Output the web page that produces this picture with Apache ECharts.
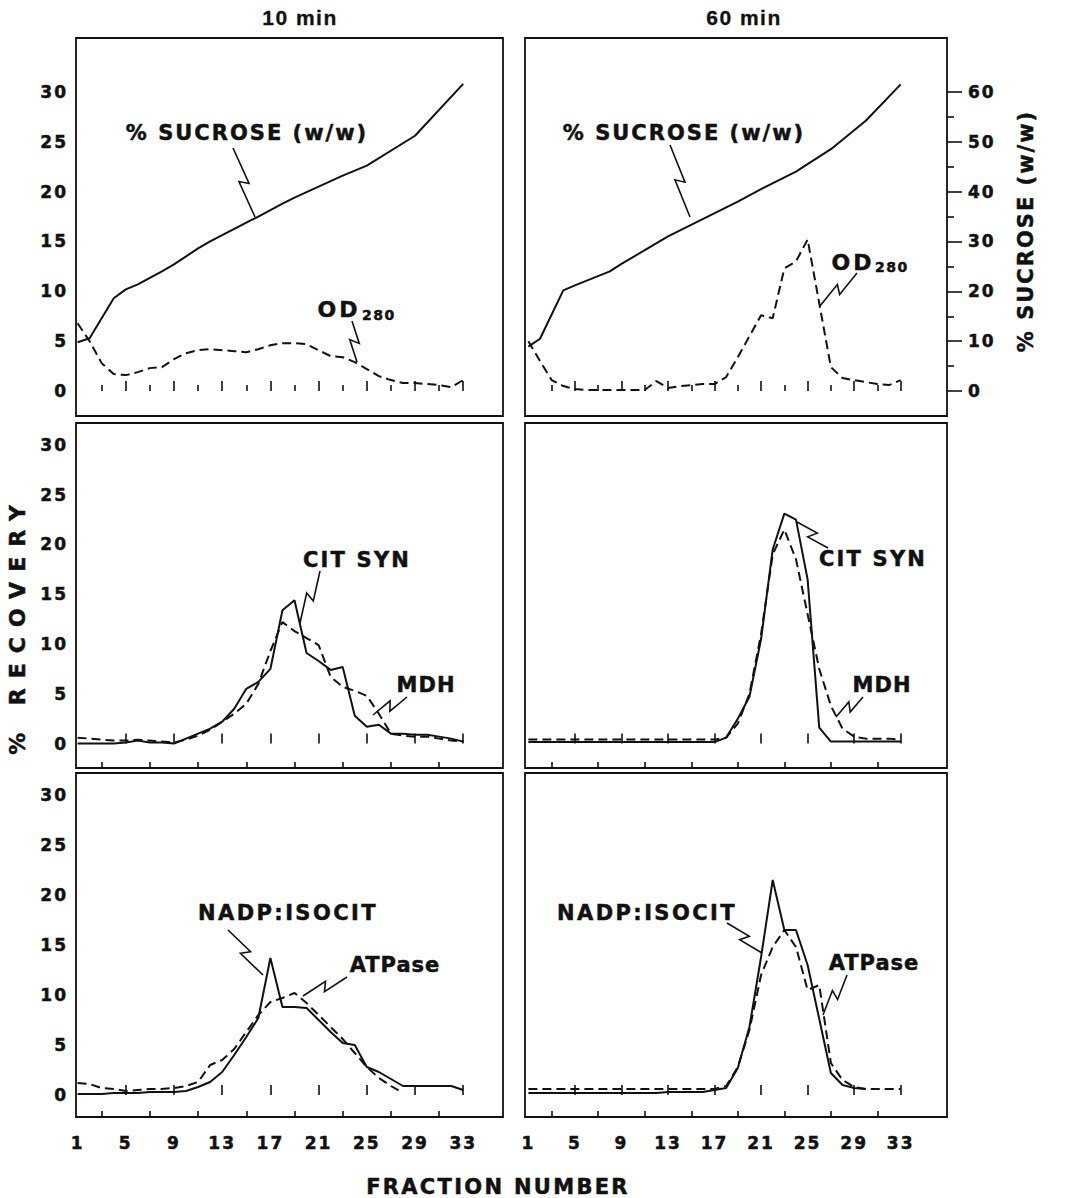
<!DOCTYPE html>
<html>
<head>
<meta charset="utf-8">
<script src="https://cdn.jsdelivr.net/npm/echarts@6/dist/echarts.min.js"></script>
<style>
  html, body { margin: 0; padding: 0; background: #fff; }
  #chart { width: 1077px; height: 1198px; }
</style>
</head>
<body>
<div id="chart"></div>
<script>
// ---------------- DATA ----------------
const fractions = [1,2,3,4,5,6,7,8,9,10,11,12,13,14,15,16,17,18,19,20,21,22,23,24,25,26,27,28,29,30,31,32,33];
const xTickLabels = [1,5,9,13,17,21,25,29,33];
const xMinorTicks = [3,7,11,15,19,23,27,31];
const yTickLabels = [0,5,10,15,20,25,30];
const sucroseTicks = [0,10,20,30,40,50,60];
const sucroseMinorTicks = [5,15,25,35,45,55];

// % sucrose (w/w), read at visible vertices
const sucrose10Frac = [1,2,4,5,6,8,9,11,12,16,18,19,23,25,29,33];
const sucrose10 = [9.8,10.6,18.6,20.4,21.4,24.0,25.4,28.6,30.0,35.0,37.6,38.8,43.2,45.2,51.2,61.6];
const sucrose60Frac = [1,2,4,5,8,9,13,19,21,24,27,30,33];
const sucrose60 = [8.9,10.5,20.2,21.2,24.0,25.5,31.0,38.0,40.5,44.0,48.5,54.2,61.5];

// OD280 (left scale)
const od280_10 = [6.8,5.0,2.8,1.7,1.6,1.9,2.3,2.4,3.2,3.8,4.1,4.2,4.1,4.0,3.9,4.2,4.6,4.8,4.8,4.7,4.1,3.5,3.4,2.9,2.2,1.5,1.1,0.8,0.8,0.7,0.6,0.4,1.1];
const od280_60 = [5.0,3.0,1.1,0.5,0.2,0.1,0.1,0.1,0.1,0.1,0.1,1.0,0.3,0.5,0.6,0.7,0.7,1.4,3.4,5.5,7.6,7.3,12.3,13.0,15.2,8.8,2.4,1.3,1.1,0.9,0.7,0.6,1.1];

// % recovery
const citSyn10 = [0.0,0.0,0.0,0.0,0.1,0.3,0.1,0.1,0.0,0.5,1.0,1.5,2.2,3.5,5.5,6.2,7.5,13.4,14.4,9.1,8.3,7.4,7.7,2.8,1.7,1.9,1.0,1.0,0.9,0.9,0.7,0.5,0.2];
const mdh10 = [0.6,0.5,0.4,0.3,0.3,0.4,0.3,0.2,0.1,0.4,0.8,1.4,2.2,3.0,4.0,6.0,9.3,12.2,11.3,10.6,9.9,6.7,5.7,5.3,4.8,3.0,1.0,0.8,0.7,0.7,0.5,0.3,0.2];
const citSyn60 = [0.15,0.15,0.15,0.15,0.15,0.15,0.15,0.15,0.15,0.15,0.15,0.15,0.15,0.15,0.15,0.15,0.15,0.6,2.5,4.7,10.5,19.5,23.1,22.5,16.5,1.6,0.2,0.2,0.2,0.2,0.2,0.2,0.2];
const mdh60 = [0.4,0.4,0.4,0.4,0.4,0.4,0.4,0.4,0.4,0.4,0.4,0.4,0.4,0.4,0.4,0.4,0.4,0.6,2.0,5.0,11.0,19.0,21.5,18.5,13.0,7.5,3.8,1.5,0.7,0.5,0.5,0.5,0.4];
const nadp10 = [0.1,0.1,0.1,0.2,0.2,0.2,0.3,0.3,0.3,0.4,0.8,1.3,2.3,4.0,5.8,7.7,13.7,8.8,8.8,8.7,7.5,6.3,5.2,5.0,2.8,2.3,1.6,0.9,0.9,0.9,0.9,0.9,0.5];
const atpase10 = [1.2,1.1,0.7,0.6,0.4,0.5,0.6,0.6,0.7,0.9,1.3,3.0,3.5,4.6,6.3,8.0,9.3,9.7,10.2,9.2,8.0,6.8,5.6,4.2,2.8,1.7,0.9,0.2];
const nadp60 = [0.2,0.2,0.2,0.2,0.2,0.2,0.2,0.2,0.2,0.2,0.2,0.2,0.3,0.3,0.3,0.3,0.5,0.7,2.7,6.8,13.8,21.5,16.5,16.5,13.0,7.6,2.2,1.0,0.7,0.6];
const atpase60 = [0.6,0.6,0.6,0.6,0.6,0.6,0.6,0.6,0.6,0.6,0.6,0.6,0.6,0.6,0.6,0.6,0.6,0.9,2.8,6.5,12.0,14.8,16.5,14.8,10.5,11.0,3.2,1.5,0.8,0.6,0.6,0.6,0.6];

// ---------------- LAYOUT ----------------
const INK = '#111';
const FONT = 'DejaVu Sans';
const BORDER = 0.5; // text stroke to thicken the bold lettering
const grids = [
  {left: 76,  top: 38,  width: 427, height: 378},
  {left: 525, top: 38,  width: 422, height: 378},
  {left: 76,  top: 423, width: 427, height: 345},
  {left: 525, top: 423, width: 422, height: 345},
  {left: 76,  top: 773, width: 427, height: 344},
  {left: 525, top: 773, width: 422, height: 344}
];
const xRange = [[0.87, 36.3], [0.71, 36.98]];
const yRange = [[-2.5, 35.4], [-2.45, 32.2], [-2.2, 32.2]];

function pairs(xs, ys) { return ys.map((y, i) => [xs[i], y]); }
const labelStyle = {color: INK, fontFamily: FONT, fontWeight: 'bold', fontSize: 17,
                    textBorderColor: INK, textBorderWidth: BORDER};

const xAxes = [], yAxes = [];
grids.forEach((g, i) => {
  const col = i % 2, row = Math.floor(i / 2);
  const r = xRange[col];
  xAxes.push({
    type: 'value', gridIndex: i, min: r[0], max: r[1], position: 'bottom',
    axisLine: {show: false}, splitLine: {show: false},
    axisTick: {show: true, inside: true, length: 10, customValues: xTickLabels.slice(1),
               lineStyle: {color: INK, width: 1.6}},
    axisLabel: Object.assign({show: row === 2, customValues: xTickLabels, margin: 17}, labelStyle)
  });
  xAxes.push({
    type: 'value', gridIndex: i, min: r[0], max: r[1], position: 'bottom',
    axisLine: {show: false}, splitLine: {show: false}, axisLabel: {show: false},
    axisTick: {show: true, inside: true, length: 6, customValues: xMinorTicks,
               lineStyle: {color: INK, width: 1.6}}
  });
});
grids.forEach((g, i) => {
  const col = i % 2, row = Math.floor(i / 2);
  const r = yRange[row];
  yAxes.push({
    type: 'value', gridIndex: i, min: r[0], max: r[1], position: 'left',
    axisLine: {show: false}, splitLine: {show: false}, axisTick: {show: false},
    axisLabel: Object.assign({show: col === 0, customValues: yTickLabels, margin: 8}, labelStyle)
  });
});
// sucrose scale (right), twice the left scale
const sucRange = [yRange[0][0] * 2, yRange[0][1] * 2];
yAxes.push({ // 6: hidden, top-left
  type: 'value', gridIndex: 0, min: sucRange[0], max: sucRange[1], position: 'right', show: false
});
yAxes.push({ // 7: top-right, labelled
  type: 'value', gridIndex: 1, min: sucRange[0], max: sucRange[1], position: 'right',
  axisLine: {show: false}, splitLine: {show: false},
  axisTick: {show: true, inside: false, length: 15, customValues: sucroseTicks,
             lineStyle: {color: INK, width: 1.6}},
  axisLabel: Object.assign({show: true, customValues: sucroseTicks, margin: 21}, labelStyle)
});
yAxes.push({ // 8: top-right minor ticks
  type: 'value', gridIndex: 1, min: sucRange[0], max: sucRange[1], position: 'right',
  axisLine: {show: false}, splitLine: {show: false}, axisLabel: {show: false},
  axisTick: {show: true, inside: false, length: 7, customValues: sucroseMinorTicks,
             lineStyle: {color: INK, width: 1.6}}
});

function line(name, xi, yi, data, dashed) {
  return {
    name, type: 'line', xAxisIndex: xi, yAxisIndex: yi, data,
    symbol: 'none', smooth: false, silent: true,
    lineStyle: {color: INK, width: 2, type: dashed ? [9, 5] : 'solid'}
  };
}
const series = [
  line('% SUCROSE 10 min', 0, 6, pairs(sucrose10Frac, sucrose10), false),
  line('OD280 10 min', 0, 0, pairs(fractions, od280_10), true),
  line('% SUCROSE 60 min', 2, 7, pairs(sucrose60Frac, sucrose60), false),
  line('OD280 60 min', 2, 1, pairs(fractions, od280_60), true),
  line('CIT SYN 10 min', 4, 2, pairs(fractions, citSyn10), false),
  line('MDH 10 min', 4, 2, pairs(fractions, mdh10), true),
  line('CIT SYN 60 min', 6, 3, pairs(fractions, citSyn60), false),
  line('MDH 60 min', 6, 3, pairs(fractions, mdh60), true),
  line('NADP:ISOCIT 10 min', 8, 4, pairs(fractions, nadp10), false),
  line('ATPase 10 min', 8, 4, pairs(fractions, atpase10), true),
  line('NADP:ISOCIT 60 min', 10, 5, pairs(fractions, nadp60), false),
  line('ATPase 60 min', 10, 5, pairs(fractions, atpase60), true)
];

// ---------------- ANNOTATIONS ----------------
function txt(text, x, y, size, opts) {
  opts = opts || {};
  return {
    type: 'text', x, y, rotation: opts.rotation || 0, z: 100,
    style: {
      text, fill: INK, fontSize: size, fontWeight: 'bold',
      fontFamily: opts.family || FONT,
      stroke: INK, lineWidth: opts.border === undefined ? BORDER : opts.border,
      align: opts.align || 'center', verticalAlign: 'middle',
      textAlign: opts.align || 'center', textVerticalAlign: 'middle'
    }
  };
}
function bolt(ax, ay, bx, by) {
  const dx = bx - ax, dy = by - ay, L = Math.hypot(dx, dy);
  const ux = dx / L, uy = dy / L, px = -uy, py = ux;
  const mx = (ax + bx) / 2, my = (ay + by) / 2, a = 4.5, s = 2.5;
  return {
    type: 'polyline', z: 100,
    shape: {points: [[ax, ay], [mx + ux * s - px * a, my + uy * s - py * a],
                     [mx - ux * s + px * a, my - uy * s + py * a], [bx, by]]},
    style: {stroke: INK, lineWidth: 1.6, fill: null}
  };
}
const graphics = [
  txt('10 min', 300, 17, 21, {family: 'Liberation Sans', border: 0.3}),
  txt('60 min', 744, 17, 21, {family: 'Liberation Sans', border: 0.3}),
  txt('% RECOVERY', 17, 625, 22, {rotation: Math.PI / 2}),
  txt('FRACTION NUMBER', 498, 1187, 21),
  txt('% SUCROSE (w/w)', 1026, 231, 21, {rotation: Math.PI / 2}),

  txt('% SUCROSE (w/w)', 247, 133, 21), bolt(233, 148, 255, 217),
  txt('OD', 339, 309, 22), txt('280', 362, 315, 14, {align: 'left'}), bolt(352, 321, 357, 362),
  txt('% SUCROSE (w/w)', 684, 133, 21), bolt(670, 145, 690, 217),
  txt('OD', 853, 262, 22), txt('280', 875, 267, 14, {align: 'left'}), bolt(857, 273, 820, 306),

  txt('CIT SYN', 357, 560, 21), bolt(320, 571, 300, 623),
  txt('MDH', 426, 685, 21), bolt(407, 697, 373, 715),
  txt('CIT SYN', 873, 559, 21), bolt(828, 548, 797, 522),
  txt('MDH', 882, 685, 21), bolt(863, 697, 836, 717),

  txt('NADP:ISOCIT', 288, 913, 21), bolt(228, 930, 263, 975),
  txt('ATPase', 395, 965, 21), bolt(347, 977, 303, 996),
  txt('NADP:ISOCIT', 647, 913, 21), bolt(727, 923, 762, 953),
  txt('ATPase', 874, 963, 21), bolt(847, 975, 823, 1015)
];

const option = {
  animation: false,
  backgroundColor: '#fff',
  textStyle: {fontFamily: FONT},
  grid: grids.map(g => Object.assign({show: true, borderColor: INK, borderWidth: 1.8,
                                      backgroundColor: 'transparent'}, g)),
  xAxis: xAxes,
  yAxis: yAxes,
  series,
  graphic: graphics
};

const chart = echarts.init(document.getElementById('chart'), null, {renderer: 'svg'});
chart.setOption(option);

// letter spacing to mimic the spaced lettering of the original
const SPACING = {'10 min': 1.5, '60 min': 1.5, '% SUCROSE (w/w)': 2, '% RECOVERY': 10,
  'FRACTION NUMBER': 2.3, 'CIT SYN': 2.2, 'MDH': 1, 'NADP:ISOCIT': 2.4, 'ATPase': 1,
  'OD': 3, '280': 1.5};
function applySpacing() {
  document.querySelectorAll('#chart svg text').forEach(t => {
    const s = t.textContent;
    let ls = SPACING[s];
    if (ls === undefined && /^\d+$/.test(s)) ls = 2;
    if (ls !== undefined) t.setAttribute('letter-spacing', ls);
  });
}
try { chart.getZr().flush(); } catch (e) {}
applySpacing();
chart.on('finished', applySpacing);
setTimeout(applySpacing, 50);
</script>
</body>
</html>
